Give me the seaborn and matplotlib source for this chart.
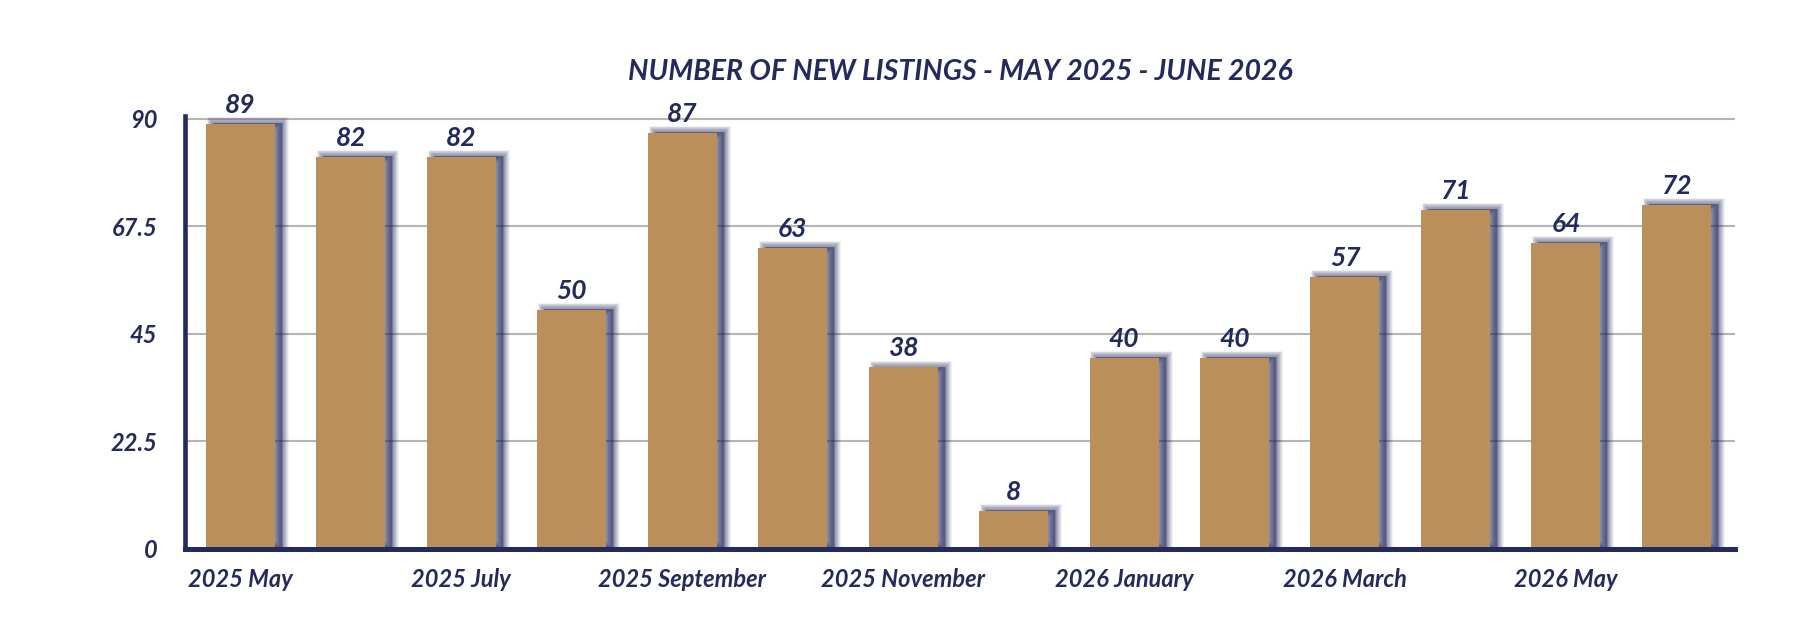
import matplotlib
matplotlib.use("Agg")
import matplotlib.pyplot as plt
import matplotlib.patheffects as pe
import seaborn as sns
import pandas as pd

# Chart data
months = ["2025 May", "2025 June", "2025 July", "2025 August", "2025 September",
          "2025 October", "2025 November", "2025 December", "2026 January",
          "2026 February", "2026 March", "2026 April", "2026 May", "2026 June"]
listings = [89, 82, 82, 50, 87, 63, 38, 8, 40, 40, 57, 71, 64, 72]
y_ticks = [0, 22.5, 45, 67.5, 90]
y_tick_labels = ["0", "22.5", "45", "67.5", "90"]

navy = "#252a5e"
gold = "#bb8f5a"

sns.set_style("white")
plt.rcParams['font.family'] = ['Lato', 'DejaVu Sans']

df = pd.DataFrame({'month': months, 'listings': listings})

fig = plt.figure(figsize=(18.18, 6.4), dpi=100)
ax = fig.add_axes([0.1018, 0.1422, 0.8525, 0.6765])

sns.barplot(data=df, x='month', y='listings', order=months, color=gold,
            width=0.625, saturation=1, ax=ax, zorder=3)

# soft navy shadow behind each bar (stacked strokes fake a blur)
shadow = []
for lw in [9, 8, 7, 6, 5, 4, 3, 2, 1, 0]:
    shadow.append(pe.SimplePatchShadow(offset=(5.0, 0.6), shadow_rgbFace=navy,
                                       alpha=0.075, foreground=navy, linewidth=lw))
shadow.append(pe.Normal())
for bar in ax.patches:
    bar.set_edgecolor('none')
    bar.set_path_effects(shadow)

# value labels
ax.bar_label(ax.containers[0], labels=[str(v) for v in listings], padding=5,
             fontsize=19, fontweight='bold', fontstyle='italic', color=navy)

ax.set_xlim(-0.5, 13.53)
ax.set_ylim(0, 90.6)
ax.set_yticks(y_ticks)
ax.set_yticklabels(y_tick_labels)
ax.set_xticks(range(0, len(months), 2))
ax.set_xticklabels(months[::2])
ax.tick_params(axis='both', length=0, labelsize=17, labelcolor=navy)
ax.tick_params(axis='x', pad=14)
ax.tick_params(axis='y', pad=20)
for lab in ax.get_xticklabels() + ax.get_yticklabels():
    lab.set_fontweight('bold')
    lab.set_fontstyle('italic')

ax.set_xlabel('')
ax.set_ylabel('')

# gridlines except at zero
for y in y_ticks[1:]:
    ax.axhline(y, color='#b5b5b5', linewidth=1.5, zorder=1)

for side in ['top', 'right']:
    ax.spines[side].set_visible(False)
ax.spines['left'].set_color(navy)
ax.spines['left'].set_linewidth(3.3)
ax.spines['bottom'].set_color(navy)
ax.spines['bottom'].set_linewidth(3.6)
ax.spines['left'].set_zorder(5)
ax.spines['bottom'].set_zorder(5)

fig.text(0.528, 0.888, 'NUMBER OF NEW LISTINGS - MAY 2025 - JUNE 2026',
         ha='center', va='center', fontsize=20.5, fontweight='bold',
         fontstyle='italic', color=navy)

fig.savefig('out.png', dpi=100, facecolor='white')
